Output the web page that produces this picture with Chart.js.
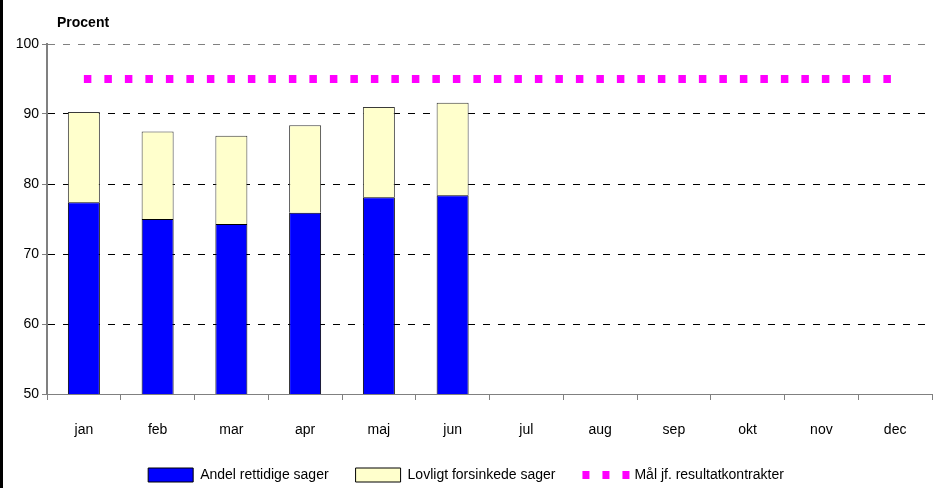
<!DOCTYPE html>
<html><head><meta charset="utf-8">
<script src="https://cdn.jsdelivr.net/npm/chart.js@4.4.0/dist/chart.umd.min.js"></script>
<style>html,body{margin:0;padding:0;background:#fff;overflow:hidden;}</style>
</head><body>
<canvas id="c" width="937" height="488"></canvas>
<script>
const months = ['jan','feb','mar','apr','maj','jun','jul','aug','sep','okt','nov','dec'];
const andelRettidige = [77.4, 75.0, 74.3, 75.9, 78.1, 78.4, null, null, null, null, null, null];
const lovligtForsinkede = [12.9, 12.5, 12.6, 12.5, 12.9, 13.2, null, null, null, null, null, null];
const maalResultatkontrakt = [95, 95, 95, 95, 95, 95, 95, 95, 95, 95, 95, 95];
const yMin = 50, yMax = 100, yStep = 10;
const seriesNames = ['Andel rettidige sager', 'Lovligt forsinkede sager', 'Mål jf. resultatkontrakter'];
const yTitle = 'Procent';

const FONT = "'Liberation Sans', Arial, sans-serif";
const FS = 14;
const BOTTOM_PAD = -4;
const PLOT_BOTTOM = 394;
Chart.defaults.font.family = FONT;
Chart.defaults.font.size = FS;
Chart.defaults.color = '#000';

const decor = {
  id: 'decor',
  beforeDraw(chart) {
    const c = chart.ctx; c.save();
    c.fillStyle = '#fff'; c.fillRect(0, 0, chart.width, chart.height);
    c.restore();
  },
  afterDraw(chart) {
    const c = chart.ctx; c.save();
    c.fillStyle = '#000'; c.fillRect(0, 0, 3, chart.height);
    c.font = 'bold 14px ' + FONT; c.textBaseline = 'alphabetic'; c.textAlign = 'left';
    c.fillText(yTitle, 57, 27);
    const hb = chart.legend && chart.legend.legendHitBoxes && chart.legend.legendHitBoxes[2];
    if (hb) {
      c.fillStyle = '#FF00FF';
      const cy = hb.top + hb.height / 2;
      for (let k = 0; k < 3; k++) c.fillRect(hb.left + k * 20, cy - 4, 7, 8);
    }
    c.restore();
  }
};

new Chart(document.getElementById('c'), {
  data: {
    labels: months,
    datasets: [
      { type: 'bar', label: seriesNames[0], data: andelRettidige, backgroundColor: '#0000FF', borderColor: '#000', borderWidth: 1, stack: 'bars', barPercentage: 0.434, categoryPercentage: 1 },
      { type: 'bar', label: seriesNames[1], data: lovligtForsinkede, backgroundColor: '#FFFFCC', borderColor: '#3a3a3a', borderWidth: 1, stack: 'bars', barPercentage: 0.434, categoryPercentage: 1 },
      { type: 'line', label: seriesNames[2], data: maalResultatkontrakt, borderColor: '#FF00FF', backgroundColor: '#FF00FF', borderWidth: 8, borderDash: [7.5, 13], pointRadius: 0, fill: false, stack: 'maal', borderCapStyle: 'butt' }
    ]
  },
  options: {
    responsive: false,
    animation: false,
    layout: { padding: { top: 44, right: 5, bottom: BOTTOM_PAD, left: 0 } },
    plugins: {
      tooltip: { enabled: false },
      title: { display: false },
      legend: {
        position: 'bottom',
        labels: {
          boxWidth: 45, boxHeight: 14, padding: 27, font: { size: FS }, color: '#000',
          generateLabels(chart) {
            const items = Chart.defaults.plugins.legend.labels.generateLabels(chart);
            items.forEach((it, i) => {
              it.lineDash = [];
              if (i < 2) { it.strokeStyle = '#000'; it.lineWidth = 1; }
              else { it.fillStyle = 'rgba(0,0,0,0)'; it.strokeStyle = 'rgba(0,0,0,0)'; it.lineWidth = 0; }
            });
            return items;
          }
        }
      }
    },
    scales: {
      x: {
        stacked: true, offset: true,
        grid: { display: true, drawOnChartArea: false, drawTicks: true, tickLength: 6, tickColor: '#808080', offset: true },
        border: { color: '#808080', width: 1 },
        ticks: { padding: 22, color: '#000', font: { size: FS } },
        afterFit(s) {
          const lh = (s.chart.legend && s.chart.legend.height) || 51;
          s.height = s.chart.height - BOTTOM_PAD - lh - PLOT_BOTTOM;
        }
      },
      y: {
        stacked: true, min: yMin, max: yMax,
        ticks: { stepSize: yStep, padding: 3, color: '#000', font: { size: FS } },
        grid: {
          drawTicks: true, tickLength: 5, tickColor: '#808080', lineWidth: 1, tickBorderDash: [],
          color(ctx) { const v = ctx.tick && ctx.tick.value; return v === yMax ? '#808080' : (v === yMin ? 'rgba(0,0,0,0)' : '#000'); }
        },
        border: { color: '#808080', width: 2, dash: [7, 8] },
        afterFit(s) { s.width = 47; }
      }
    }
  },
  plugins: [decor]
});
</script>
</body></html>
